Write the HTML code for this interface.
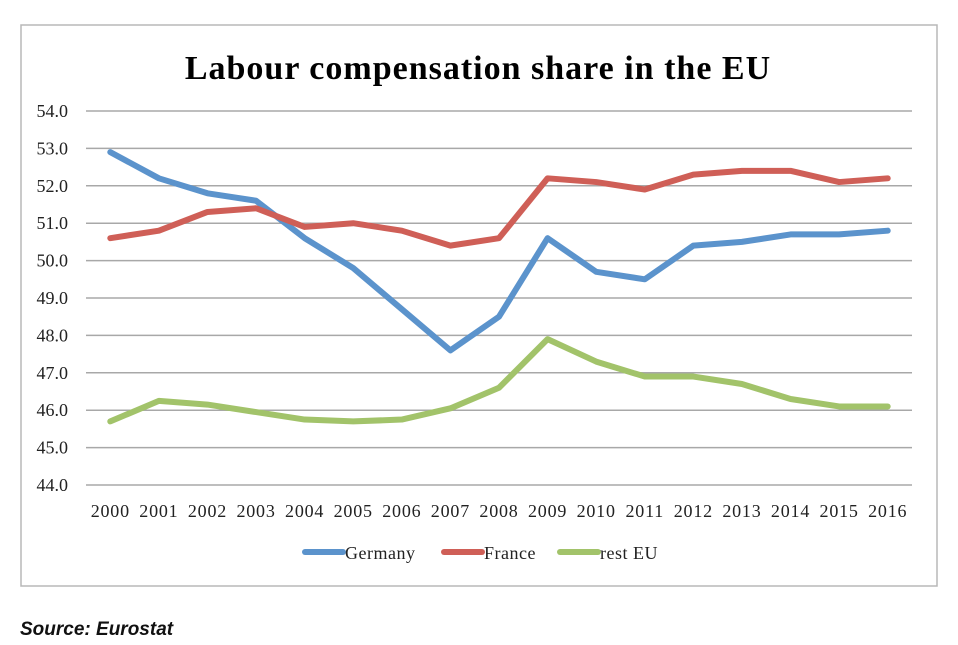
<!DOCTYPE html>
<html><head><meta charset="utf-8"><style>
body{margin:0;background:#fff;width:958px;height:645px;overflow:hidden;position:relative}
</style></head><body>
<svg width="958" height="645" style="position:absolute;left:0;top:0" font-family="Liberation Serif, serif">
<rect x="21" y="25" width="916" height="561" fill="#fff" stroke="#b8b8b8" stroke-width="1.5"/>
<text x="478" y="79" text-anchor="middle" font-size="34" font-weight="bold" fill="#000" letter-spacing="1">Labour compensation share in the EU</text>
<g id="grid"></g><g id="series"></g><g id="axes"></g>
<g font-size="18" fill="#222" letter-spacing="0.5">
<line x1="305" y1="552" x2="343" y2="552" stroke="#5b93cc" stroke-width="6" stroke-linecap="round"/>
<text x="345" y="559">Germany</text>
<line x1="444" y1="552" x2="482" y2="552" stroke="#cf5f57" stroke-width="6" stroke-linecap="round"/>
<text x="484" y="559">France</text>
<line x1="560" y1="552" x2="598" y2="552" stroke="#a2c36a" stroke-width="6" stroke-linecap="round"/>
<text x="600" y="559">rest EU</text>
</g>
</svg>
<div style="position:absolute;left:20px;top:619px;font:italic bold 19px 'Liberation Sans',sans-serif;color:#111">Source: Eurostat</div>
<script>
const years=["2000","2001","2002","2003","2004","2005","2006","2007","2008","2009","2010","2011","2012","2013","2014","2015","2016"];
const germany=[52.9,52.2,51.8,51.6,50.6,49.8,48.7,47.6,48.5,50.6,49.7,49.5,50.4,50.5,50.7,50.7,50.8];
const france=[50.6,50.8,51.3,51.4,50.9,51.0,50.8,50.4,50.6,52.2,52.1,51.9,52.3,52.4,52.4,52.1,52.2];
const restEU=[45.7,46.25,46.15,45.95,45.75,45.7,45.75,46.05,46.6,47.9,47.3,46.9,46.9,46.7,46.3,46.1,46.1];
const yTicks=[44,45,46,47,48,49,50,51,52,53,54];
const NS="http://www.w3.org/2000/svg";
const L=86,R=912,T=111,B=485,yMin=44,yMax=54;
const band=(R-L)/years.length;
function xs(i){return L+band*(i+0.5);}
function ys(v){return B-(v-yMin)/(yMax-yMin)*(B-T);}
const grid=document.getElementById('grid'),axes=document.getElementById('axes'),ser=document.getElementById('series');
yTicks.forEach(t=>{
 const l=document.createElementNS(NS,'line');
 
 
 l.setAttribute('x1',L);l.setAttribute('x2',R);l.setAttribute('y1',ys(t));l.setAttribute('y2',ys(t));
 l.setAttribute('stroke','#a8a8a8');l.setAttribute('stroke-width','1.5');grid.appendChild(l);
 const tx=document.createElementNS(NS,'text');
 
 
 tx.setAttribute('x',68);tx.setAttribute('y',ys(t)+6);tx.setAttribute('text-anchor','end');
 tx.setAttribute('font-size','18');tx.setAttribute('fill','#222');tx.textContent=t.toFixed(1);axes.appendChild(tx);
});
years.forEach((y,i)=>{
 const tx=document.createElementNS(NS,'text');
 
 
 tx.setAttribute('x',xs(i));tx.setAttribute('y',517);tx.setAttribute('text-anchor','middle');
 tx.setAttribute('font-size','18');tx.setAttribute('letter-spacing','0.8');tx.setAttribute('fill','#222');tx.textContent=y;axes.appendChild(tx);
});
[[germany,'#5b93cc','germany-line'],[france,'#cf5f57','france-line'],[restEU,'#a2c36a','rest-eu-line']].forEach(([d,c,n])=>{
 const p=document.createElementNS(NS,'polyline');
 
 
 p.setAttribute('points',d.map((v,i)=>xs(i)+','+ys(v)).join(' '));
 p.setAttribute('fill','none');p.setAttribute('stroke',c);p.setAttribute('stroke-width','6');
 p.setAttribute('stroke-linecap','round');p.setAttribute('stroke-linejoin','round');ser.appendChild(p);
});
</script>
</body></html>
